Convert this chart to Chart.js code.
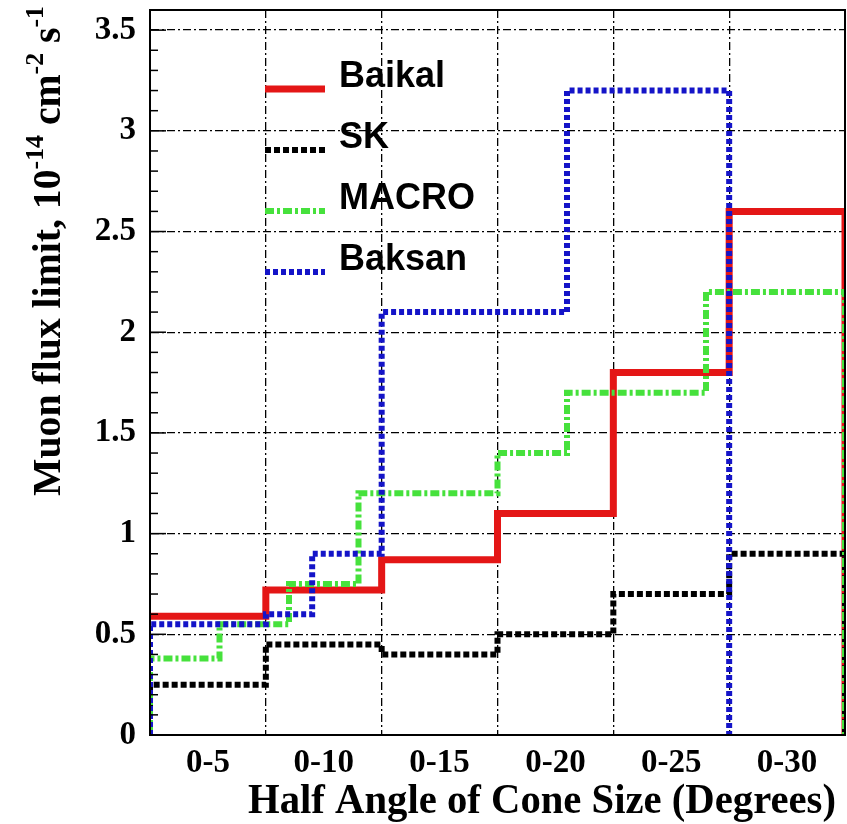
<!DOCTYPE html>
<html lang="en">
<head>
<meta charset="UTF-8">
<title>Muon flux limit vs cone size</title>
<script src="https://cdn.jsdelivr.net/npm/chart.js"></script>
<style>
    body { margin: 0; background: #fff; }
    canvas { display: block; }
</style>
</head>
<body>
<canvas id="flux-chart" width="847" height="824"></canvas>
<script>
// x axis is the cone half angle in degrees, one category per 5 degrees
const categories = ["0-5", "0-10", "0-15", "0-20", "0-25", "0-30"];
const binEdges = [0, 5, 10, 15, 20, 25, 30];
const yTicks = [0, 0.5, 1, 1.5, 2, 2.5, 3, 3.5];

// each experiment: step edges (degrees) and the limit in every step
const baikalEdges = [0, 5, 10, 15, 20, 25, 30];
const baikalValues = [0.59, 0.72, 0.87, 1.1, 1.8, 2.6];
const skEdges = [0, 5, 10, 15, 20, 25, 30];
const skValues = [0.25, 0.45, 0.4, 0.5, 0.7, 0.9];
const macroEdges = [0, 3, 6, 9, 15, 18, 24, 30];
const macroValues = [0.38, 0.55, 0.75, 1.2, 1.4, 1.7, 2.2];
const baksanEdges = [0, 5, 7, 10, 18, 25];
const baksanValues = [0.55, 0.6, 0.9, 2.1, 3.2];

const serif = "'Liberation Serif', 'DejaVu Serif', serif";
const sans = "'Liberation Sans', Arial, sans-serif";
const gridDash = [8, 3, 2, 3];

// histogram outline: optional rise from zero, steps, drop to zero at the end
function stepPoints(edges, values, fromZero) {
    const pts = [];
    if (fromZero) pts.push({ x: edges[0], y: 0 });
    values.forEach((v, i) => pts.push({ x: edges[i], y: v }));
    const last = edges[edges.length - 1];
    pts.push({ x: last, y: values[values.length - 1] });
    pts.push({ x: last, y: 0 });
    return pts;
}

function series(label, pts, color, width, dash, order) {
    return {
        label: label,
        data: pts,
        borderColor: color,
        backgroundColor: color,
        borderWidth: width,
        borderDash: dash,
        stepped: "before",
        fill: false,
        pointRadius: 0,
        order: order
    };
}

const datasets = [
    series("Baikal", stepPoints(baikalEdges, baikalValues, false), "rgb(228,22,22)", 7, [], 4),
    series("SK", stepPoints(skEdges, skValues, true), "#000", 6, [6, 3], 3),
    series("MACRO", stepPoints(macroEdges, macroValues, true), "rgb(70,225,60)", 6, [9, 3, 3, 3], 2),
    series("Baksan", stepPoints(baksanEdges, baksanValues, true), "rgb(20,20,200)", 6, [5, 3], 1)
];

// draws text squeezed to a given width (the original uses a narrow serif)
function fitText(ctx, parts, x, y, width) {
    let total = 0;
    parts.forEach(p => { ctx.font = p.font; total += ctx.measureText(p.text).width; });
    ctx.save();
    ctx.translate(x, y);
    ctx.scale(width / total, 1);
    let px = 0;
    parts.forEach(p => {
        ctx.font = p.font;
        ctx.fillText(p.text, px, p.rise || 0);
        px += ctx.measureText(p.text).width;
    });
    ctx.restore();
}

// no extra room for the outer tick labels, the frame sits where it is
function noPadding(s) {
    s.paddingTop = 0;
    s.paddingBottom = 0;
    s.paddingLeft = 0;
    s.paddingRight = 0;
}

// frame, minor ticks, legend and axis titles
const decorations = {
    id: "decorations",
    afterDraw(chart) {
        const ctx = chart.ctx;
        const area = chart.chartArea;
        const y = chart.scales.y;
        ctx.save();

        // ticks on the left frame, every 0.1
        ctx.strokeStyle = "#000";
        ctx.lineWidth = 1.5;
        ctx.setLineDash([]);
        for (let k = 0; k <= 36; k++) {
            const py = y.getPixelForValue(k / 10);
            const len = k % 5 === 0 ? 16 : 8;
            ctx.beginPath();
            ctx.moveTo(area.left, py);
            ctx.lineTo(area.left + len, py);
            ctx.stroke();
        }

        // frame
        ctx.lineWidth = 2;
        ctx.strokeRect(area.left, area.top, area.right - area.left, area.bottom - area.top);

        // legend inside the plot
        const lx = 265, ly = 89, row = 61;
        chart.data.datasets.forEach((ds, i) => {
            const yy = ly + i * row;
            ctx.strokeStyle = ds.borderColor;
            ctx.lineWidth = ds.borderWidth;
            ctx.setLineDash(ds.borderDash);
            ctx.beginPath();
            ctx.moveTo(lx, yy);
            ctx.lineTo(lx + 60, yy);
            ctx.stroke();
            ctx.setLineDash([]);
            ctx.fillStyle = "#000";
            ctx.font = "bold 36px " + sans;
            ctx.textAlign = "left";
            ctx.textBaseline = "alphabetic";
            ctx.fillText(ds.label, lx + 74, yy - 2);
        });

        ctx.fillStyle = "#000";
        ctx.textAlign = "left";
        ctx.textBaseline = "alphabetic";

        // x title
        fitText(ctx, [{ text: "Half Angle of Cone Size (Degrees)", font: "bold 42px " + serif }],
            248, 813, 588);

        // y title with superscripts, rotated
        ctx.translate(60, 496);
        ctx.rotate(-Math.PI / 2);
        const big = "bold 40px " + serif, small = "bold 26px " + serif;
        fitText(ctx, [
            { text: "Muon flux limit, 10", font: big },
            { text: "-14", font: small, rise: -17 },
            { text: " cm", font: big },
            { text: "-2", font: small, rise: -17 },
            { text: " s", font: big },
            { text: "-1", font: small, rise: -17 }
        ], 0, 0, 490);
        ctx.restore();
    }
};

const ctx = document.getElementById("flux-chart").getContext("2d");
new Chart(ctx, {
    type: "line",
    data: { datasets: datasets },
    options: {
        responsive: false,
        animation: false,
        layout: { padding: { top: 10, right: 2, left: 0, bottom: 0 } },
        plugins: { legend: { display: false }, tooltip: { enabled: false } },
        scales: {
            x: {
                type: "linear",
                min: binEdges[0],
                max: binEdges[binEdges.length - 1],
                afterBuildTicks: s => {
                    s.ticks = categories.map((c, i) => ({ value: (binEdges[i] + binEdges[i + 1]) / 2 }));
                },
                ticks: {
                    callback: (v, i) => categories[i],
                    font: { family: serif, size: 33, weight: "bold" },
                    color: "#000",
                    padding: 9,
                    maxRotation: 0,
                    autoSkip: false
                },
                grid: { display: false, drawTicks: false },
                border: { display: true, color: "#000", width: 2 },
                afterFit: s => { s.height = 89; noPadding(s); }
            },
            xg: {
                type: "linear",
                position: "top",
                min: binEdges[0],
                max: binEdges[binEdges.length - 1],
                afterBuildTicks: s => {
                    s.ticks = binEdges.slice(1, -1).map(v => ({ value: v }));
                },
                ticks: { display: false },
                grid: { color: "#000", lineWidth: 1.3, drawTicks: false },
                border: { display: false, dash: gridDash },
                afterFit: s => { s.height = 0; noPadding(s); }
            },
            y: {
                type: "linear",
                min: 0,
                max: 3.6,
                afterBuildTicks: s => {
                    s.ticks = yTicks.map(v => ({ value: v }));
                },
                ticks: {
                    callback: v => String(v),
                    font: { family: serif, size: 33, weight: "bold" },
                    color: "#000",
                    padding: 14
                },
                grid: { color: "#000", lineWidth: 1.3, drawTicks: false },
                border: { display: true, color: "#000", width: 2, dash: gridDash },
                afterFit: s => { s.width = 150; noPadding(s); }
            }
        }
    },
    plugins: [decorations]
});
</script>
</body>
</html>
